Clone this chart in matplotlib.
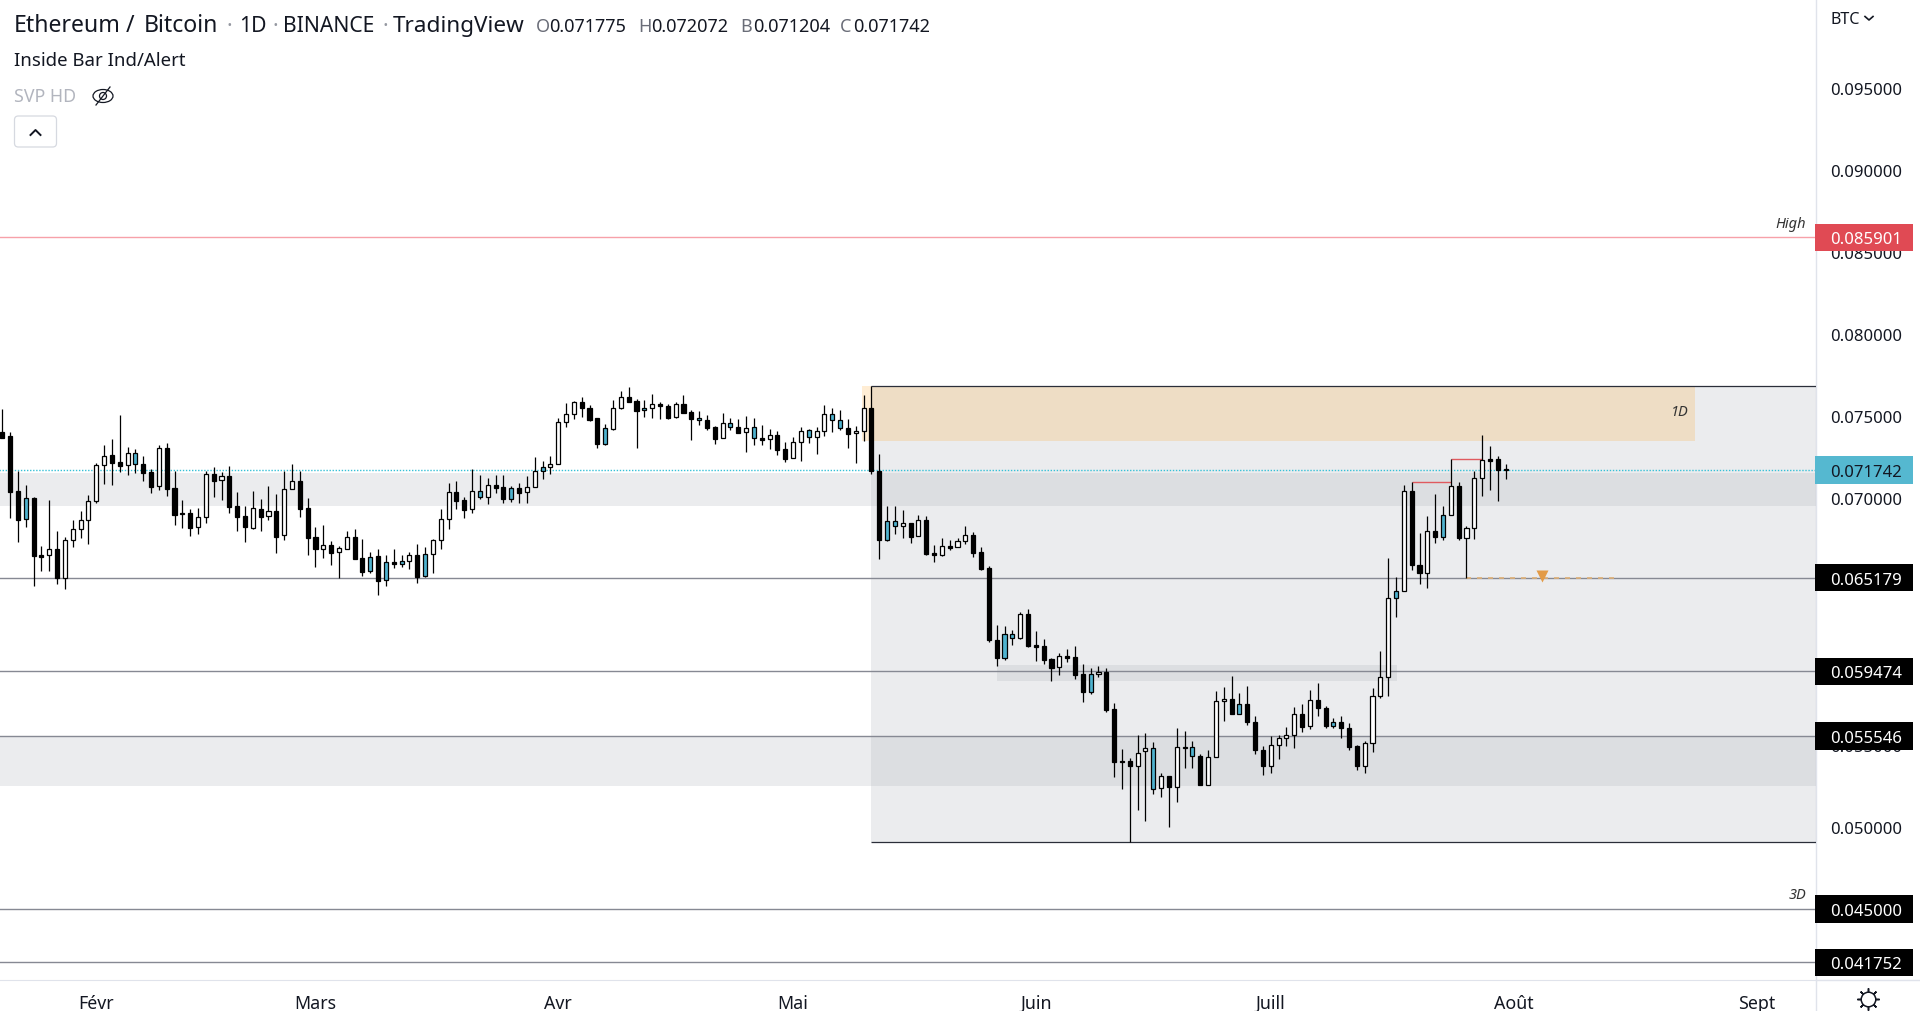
import matplotlib
matplotlib.use("Agg")
import matplotlib.pyplot as plt
import numpy as np
from matplotlib.lines import Line2D
from matplotlib.patches import Rectangle, FancyBboxPatch, Ellipse
from matplotlib.transforms import blended_transform_factory

plt.rcParams['font.family'] = ['Noto Sans', 'DejaVu Sans']

# ETH/BTC daily candles, prices in 1e-5 BTC, first candle 20 Jan
highs = [
    7545, 7403, 7168, 7081, 7009, 6709, 6989, 6800, 6764, 6869,
    6924, 7020, 7214, 7326, 7361, 7509, 7312, 7300, 7257, 7178,
    7324, 7336, 7168, 6989, 6934, 6940, 7166, 7190, 7160, 7196,
    7038, 6953, 7044, 6995, 7074, 7026, 7168, 7208, 7168, 7001,
    6825, 6837, 6739, 6709, 6800, 6813, 6752, 6672, 6691, 6654,
    6691, 6654, 6672, 6721, 6703, 6752, 6934, 7093, 7105, 7008,
    7178, 7142, 7123, 7142, 7142, 7075, 7093, 7135, 7251, 7227,
    7257, 7489, 7580, 7592, 7617, 7568, 7489, 7452, 7598, 7653,
    7677, 7604, 7598, 7635, 7586, 7574, 7586, 7629, 7537, 7531,
    7507, 7440, 7519, 7489, 7483, 7501, 7489, 7446, 7422, 7409,
    7342, 7373, 7434, 7422, 7434, 7568, 7550, 7537, 7483, 7440,
    7629, 7686, 7269, 6955, 6955, 6928, 6853, 6898, 6892, 6715,
    6758, 6746, 6758, 6831, 6794, 6703, 6587, 6228, 6222, 6197,
    6307, 6325, 6191, 6143, 6027, 6057, 6082, 6100, 5990, 5966,
    5978, 5966, 5753, 5473, 5418, 5558, 5570, 5515, 5327, 5309,
    5601, 5583, 5522, 5443, 5467, 5826, 5851, 5918, 5814, 5857,
    5674, 5491, 5552, 5558, 5607, 5729, 5747, 5832, 5875, 5735,
    5662, 5674, 5631, 5498, 5522, 5845, 6070, 6636, 6520, 7080,
    7098, 6788, 6891, 7025, 6952, 7238, 7098, 6830, 7165, 7385,
    7318, 7257, 7207,
]
body_tops = [
    7403, 7381, 7044, 7001, 7001, 6656, 6691, 6691, 6746, 6813,
    6867, 6983, 7202, 7257, 7263, 7221, 7275, 7275, 7208, 7160,
    7306, 7306, 7062, 6912, 6910, 6886, 7148, 7148, 7135, 7135,
    6953, 6892, 6940, 6934, 6922, 6922, 7056, 7105, 7105, 6940,
    6764, 6715, 6715, 6697, 6764, 6764, 6636, 6646, 6648, 6612,
    6612, 6618, 6654, 6654, 6660, 6746, 6873, 7038, 7038, 6989,
    7044, 7044, 7081, 7081, 7068, 7062, 7062, 7068, 7166, 7190,
    7209, 7464, 7513, 7586, 7586, 7550, 7489, 7428, 7550, 7617,
    7617, 7592, 7550, 7574, 7574, 7562, 7574, 7574, 7525, 7489,
    7476, 7434, 7458, 7458, 7434, 7432, 7434, 7367, 7385, 7385,
    7300, 7342, 7409, 7416, 7409, 7513, 7513, 7476, 7428, 7409,
    7550, 7550, 7166, 6861, 6861, 6849, 6849, 6867, 6867, 6668,
    6709, 6709, 6739, 6776, 6776, 6672, 6575, 6137, 6173, 6173,
    6295, 6295, 6106, 6100, 6021, 6039, 6039, 6033, 5930, 5930,
    5942, 5942, 5716, 5400, 5400, 5452, 5479, 5479, 5309, 5309,
    5485, 5485, 5485, 5431, 5424, 5765, 5778, 5778, 5747, 5747,
    5638, 5467, 5498, 5540, 5558, 5686, 5686, 5772, 5772, 5723,
    5638, 5638, 5601, 5491, 5510, 5796, 5912, 6392, 6435, 7044,
    7044, 6593, 6800, 6800, 6897, 7074, 7074, 6818, 7123, 7232,
    7238, 7238, 7178,
]
body_bottoms = [
    7371, 7042, 6871, 6873, 6652, 6646, 6654, 6518, 6518, 6746,
    6813, 6867, 6983, 7202, 7219, 7200, 7202, 7208, 7158, 7072,
    7074, 7060, 6902, 6908, 6823, 6825, 6886, 7109, 7111, 6951,
    6890, 6829, 6823, 6890, 6892, 6768, 6776, 7056, 6938, 6762,
    6695, 6695, 6670, 6672, 6695, 6634, 6555, 6557, 6500, 6502,
    6599, 6599, 6618, 6524, 6526, 6660, 6746, 6873, 6987, 6932,
    6934, 7006, 7008, 7066, 6999, 6999, 7036, 7038, 7068, 7166,
    7190, 7209, 7464, 7513, 7550, 7478, 7334, 7334, 7426, 7550,
    7590, 7535, 7537, 7550, 7562, 7493, 7495, 7523, 7487, 7476,
    7432, 7365, 7367, 7434, 7401, 7403, 7367, 7359, 7361, 7298,
    7243, 7245, 7342, 7373, 7373, 7409, 7476, 7428, 7395, 7397,
    7409, 7166, 6750, 6750, 6831, 6831, 6768, 6770, 6662, 6658,
    6658, 6701, 6703, 6739, 6670, 6573, 6135, 6031, 6031, 6153,
    6153, 6104, 6098, 6019, 5970, 5972, 6031, 5927, 5824, 5824,
    5930, 5714, 5392, 5392, 5373, 5373, 5461, 5233, 5236, 5240,
    5242, 5483, 5431, 5252, 5252, 5424, 5765, 5690, 5690, 5636,
    5465, 5368, 5368, 5498, 5540, 5558, 5611, 5613, 5721, 5617,
    5617, 5599, 5489, 5368, 5368, 5510, 5796, 5911, 6392, 6435,
    6593, 6548, 6548, 6763, 6763, 6897, 6757, 6757, 6818, 7123,
    7230, 7176, 7174,
]
lows = [
    7371, 6884, 6737, 6829, 6469, 6561, 6561, 6476, 6451, 6707,
    6762, 6725, 6975, 7091, 7083, 7164, 7145, 7158, 7109, 7036,
    7054, 7018, 6841, 6823, 6774, 6786, 6853, 7011, 6991, 6914,
    6804, 6737, 6817, 6804, 6871, 6670, 6744, 7056, 6890, 6658,
    6585, 6640, 6597, 6516, 6695, 6634, 6530, 6549, 6415, 6469,
    6579, 6585, 6573, 6488, 6524, 6549, 6695, 6817, 6936, 6884,
    6914, 6999, 6969, 7036, 6975, 6981, 6975, 6975, 7068, 7121,
    7152, 7209, 7438, 7485, 7499, 7474, 7310, 7328, 7420, 7543,
    7590, 7310, 7499, 7493, 7487, 7481, 7493, 7523, 7359, 7450,
    7414, 7334, 7367, 7414, 7397, 7286, 7328, 7328, 7304, 7267,
    7225, 7245, 7231, 7340, 7273, 7383, 7407, 7414, 7310, 7213,
    7353, 7152, 6634, 6738, 6786, 6762, 6731, 6770, 6656, 6616,
    6652, 6689, 6703, 6725, 6646, 6567, 6128, 5982, 6019, 6110,
    6147, 6098, 6013, 5994, 5891, 5927, 6007, 5903, 5763, 5812,
    5915, 5702, 5306, 5233, 4906, 5105, 5038, 5197, 5179, 4996,
    5154, 5357, 5359, 5252, 5252, 5424, 5642, 5690, 5690, 5623,
    5441, 5313, 5325, 5416, 5495, 5483, 5575, 5593, 5678, 5599,
    5605, 5544, 5471, 5349, 5325, 5453, 5784, 5799, 6280, 6435,
    6567, 6481, 6457, 6731, 6749, 6897, 6749, 6514, 6755, 7017,
    7054, 6987, 7120,
]
# d = down, u = up, i = flagged by the inside bar indicator
kinds = (
    "dddidduduu" "uuuudduidd" "udddduudud" "ddududuudd" "duduuddidi"
    "diudiuuudd" "uiuddiduui" "uuuudddiuu" "ddiudduddi" "dduiduidud"
    "duuiuuiidu" "uddiiududd" "uduuddddii" "uddddudddi" "udddduuiud"
    "uuiduuudid" "dduuuududd" "iddduuuuiu" "ddudiuduuu" "ddd"
)

month_ticks = [12, 40, 71, 101, 132, 162, 193, 224]
month_labels = ["Févr", "Mars", "Avr", "Mai", "Juin", "Juill", "Août", "Sept"]
price_ticks = [0.095, 0.09, 0.085, 0.08, 0.075, 0.07, 0.065, 0.06, 0.055, 0.05, 0.045]

# horizontal levels and their price tags
black_levels = [0.065179, 0.059474, 0.055546, 0.045, 0.041752]
high_level = 0.085901
last_price = 0.071742

# zones as (first candle or None for left edge, last candle or None for right edge, top, bottom)
gray_zones = [
    (None, None, 0.07158, 0.06955),
    (None, None, 0.055546, 0.05251),
    (110.9, None, 0.07685, 0.04906),
    (127, 178.1, 0.05986, 0.05891),
]
supply_zone = (109.8, 216.2, 0.07685, 0.07353)

highs = np.array(highs) / 1e5
lows = np.array(lows) / 1e5
body_tops = np.array(body_tops) / 1e5
body_bottoms = np.array(body_bottoms) / 1e5
days = np.arange(len(highs))

W, H = 1920, 1012
axis_x, axis_y = 1815.7, 980.7
text_col = "#131722"

fig = plt.figure(figsize=(19.2, 10.12), dpi=100, facecolor="white")
ax = fig.add_axes([0, 1 - axis_y / H, axis_x / W, axis_y / H])
ax.patch.set_visible(False)
ax.set_xlim(-0.29, 231.6)
ax.set_ylim(0.04069, 0.10042)

# zones
for x0, x1, top, bot in gray_zones:
    x0 = -1 if x0 is None else x0
    x1 = 240 if x1 is None else x1
    ax.add_patch(Rectangle((x0, bot), x1 - x0, top - bot, fc="#b2b5be", alpha=0.25, ec="none", zorder=1))
x0, x1, top, bot = supply_zone
ax.add_patch(Rectangle((x0, bot), x1 - x0, top - bot, fc="#ff9800", alpha=0.17, ec="none", zorder=1.1))
ax.hlines([0.07685, 0.04906], 110.9, 240, color="#2a2e39", lw=0.9, zorder=2)

# levels
ax.hlines(black_levels, -1, 240, color="#868993", lw=1.0, zorder=2)
ax.hlines(high_level, -1, 240, color="#f7a1a9", lw=1.0, zorder=2)
ax.hlines(last_price, -1, 240, color="#35c0d6", lw=1.0, linestyles=(0, (1, 1.2)), zorder=2.2)

# inside bar marks
ax.hlines(highs[180], 180, 185, color="#e05a5f", lw=1.0, zorder=3)
ax.hlines(highs[185], 185, 189, color="#e05a5f", lw=1.0, zorder=3)
ax.hlines(0.06518, 187, 206, color="#deb077", lw=1.2, linestyles=(0, (3, 3.6)), zorder=3)
ax.plot([196.6], [0.06528], marker="v", ms=8.5, color="#e39b47", mec="none", zorder=3.2)

# candles
ax.vlines(days, lows, highs, color="black", lw=0.9, zorder=4)
face = {"d": "black", "u": "white", "i": "#4fb3cf"}
ax.bar(days, body_tops - body_bottoms, bottom=body_bottoms, width=0.52,
       color=[face[k] for k in kinds], edgecolor="black", linewidth=0.9, zorder=5)

# axes
for s in ["top", "left"]:
    ax.spines[s].set_visible(False)
ax.spines["right"].set_visible(False)
ax.spines["bottom"].set_color("#e0e3eb")
ax.yaxis.tick_right()
ax.set_yticks(price_ticks, [f"{p:.6f}" for p in price_ticks])
ax.set_xticks(month_ticks, month_labels)
ax.tick_params(axis="y", length=0, pad=10.5, labelsize=12, labelcolor=text_col)
ax.tick_params(axis="x", length=0, pad=10, labelsize=12.8, labelcolor=text_col)
for t in ax.get_xticklabels():
    t.set_fontweight("medium")

# scale separators, drawn under the axes so the price tags cover them
fig.add_artist(Line2D([axis_x / W] * 2, [0, 1], color="#e0e3eb", lw=1.0, zorder=-1))
fig.add_artist(Line2D([axis_x / W, 1], [1 - axis_y / H] * 2, color="#e0e3eb", lw=1.0, zorder=-1))

# price tags over the tick labels
tag_tr = blended_transform_factory(ax.transAxes, ax.transData)
tag_w = 98 / axis_x
tag_h = 27.5 / 16420
tags = [(high_level, "#e04a54", "white")] + [(last_price, "#55b8d0", text_col)]
tags += [(p, "black", "white") for p in black_levels]
for price, bg, fg in tags:
    ax.add_patch(Rectangle((1 - 0.5 / axis_x, price - tag_h / 2), tag_w, tag_h, transform=tag_tr, fc=bg, ec="none",
                           clip_on=False, zorder=8))
    ax.text(1 + 14.5 / axis_x, price, f"{price:.6f}", transform=tag_tr, color=fg, fontsize=12,
            fontweight="semibold" if fg == "white" else "normal", va="center_baseline", ha="left",
            clip_on=False, zorder=9)


def label(x, y, s, **kw):
    kw.setdefault("color", text_col)
    kw.setdefault("va", "center")
    fig.text(x / W, 1 - y / H, s, **kw)


# header
label(13.5, 26.5, "Ethereum", fontsize=16.6)
label(126, 26.5, "/", fontsize=16.6)
label(144, 26.5, "Bitcoin", fontsize=16.6)
label(226, 26.5, "·", fontsize=15.2, color="#9598a1")
label(239, 26.5, "1D", fontsize=15.2)
label(273, 26.5, "·", fontsize=15.2, color="#9598a1")
label(283, 26.5, "BINANCE", fontsize=15.2)
label(382, 26.5, "·", fontsize=15.2, color="#9598a1")
label(393, 26.5, "TradingView", fontsize=16.2)
for x, letter, value in [(536, "O", "0.071775"), (638, "H", "0.072072"),
                         (740, "B", "0.071204"), (840, "C", "0.071742")]:
    label(x, 27, letter, fontsize=13, color="#6a6d78")
    label(x + 13.5, 27, value, fontsize=13)
label(13.5, 61, "Inside Bar Ind/Alert", fontsize=13.4)
label(13.5, 97, "SVP HD", fontsize=12.8, color="#b2b5be")
label(1830, 20, "BTC", fontsize=11.6)
label(1791, 225, "High", fontsize=10.5, style="italic", ha="center", color="#333333")
label(1798, 896, "3D", fontsize=10.5, style="italic", ha="center", color="#333333")
label(1680, 413, "1D", fontsize=10.5, style="italic", ha="center", color="#333333")


# small icons
def fline(xs, ys, **kw):
    fig.add_artist(Line2D(np.array(xs) / W, 1 - np.array(ys) / H, **kw))


fline([1865, 1869, 1873], [17.5, 21, 17.5], color=text_col, lw=1.2)
fig.add_artist(Ellipse((103 / W, 1 - 97 / H), 20 / W, 13 / H, fc="none", ec=text_col, lw=0.9,
                       transform=fig.transFigure))
fig.add_artist(Ellipse((103 / W, 1 - 97 / H), 7 / W, 7 / H, fc="none", ec=text_col, lw=0.9,
                       transform=fig.transFigure))
fline([96, 110], [106, 88], color=text_col, lw=0.9)
fig.add_artist(FancyBboxPatch((14.5 / W, 1 - 148 / H), 42 / W, 31 / H, boxstyle="round,pad=0,rounding_size=0.002",
                              fc="white", ec="#d6d9e0", lw=0.9, transform=fig.transFigure, mutation_aspect=1.9))
fline([30.5, 35.5, 40.5], [136, 131, 136], color=text_col, lw=1.4)
fig.add_artist(Line2D([1867.7 / W], [1 - 1000 / H], marker=(8, 2, 0), ms=16, mew=1.1, color=text_col))
fig.add_artist(Line2D([1867.7 / W], [1 - 1000 / H], marker="o", ms=10.5, mew=1.1, mfc="white", mec=text_col))

fig.savefig("out.png", dpi=100)
